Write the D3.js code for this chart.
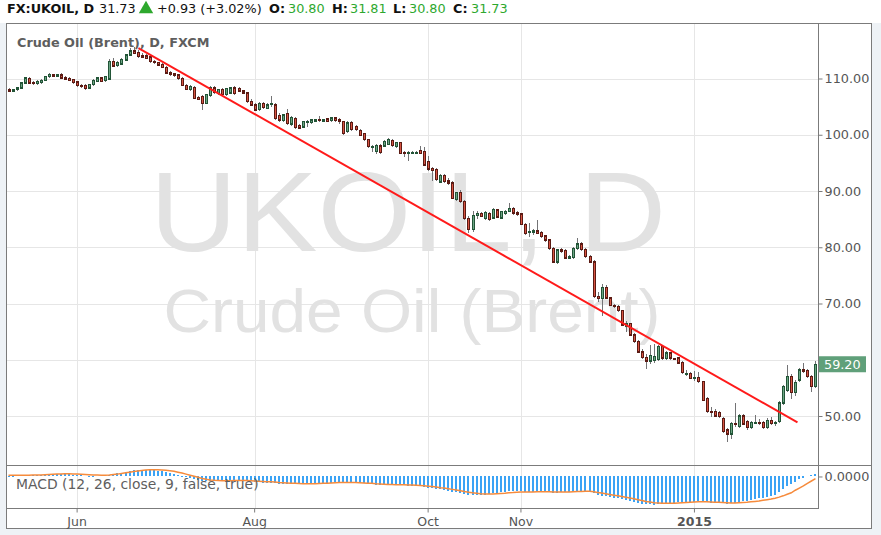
<!DOCTYPE html>
<html>
<head>
<meta charset="utf-8">
<script src="https://cdn.jsdelivr.net/npm/d3@7"></script>
<style>
  html, body { margin: 0; padding: 0; background: #ffffff; }
  svg { display: block; }
</style>
</head>
<body>
<svg id="chart" width="881" height="535"></svg>
<script>
// ---------------- DATA ----------------
const firstDay = new Date(2014, 4, 8);   // 8 May 2014
const lastDay  = new Date(2015, 1, 12);  // 12 Feb 2015

const opens = [
108.1,107.8,108.0,108.3,109.2,110.0,109.3,109.1,109.3,109.7,
110.3,110.6,110.5,110.6,110.1,110.0,109.8,109.4,108.8,108.8,
108.3,108.9,109.5,110.1,109.6,109.9,113.0,112.3,112.6,113.3,
114.2,114.9,114.6,114.0,114.0,113.8,113.0,112.8,112.5,112.0,
111.0,110.8,110.6,110.0,108.8,108.1,108.4,106.6,106.8,105.6,
107.0,108.3,107.3,108.0,107.1,107.4,108.3,108.2,107.8,107.4,
105.9,105.3,104.5,105.5,104.7,105.4,105.3,103.4,102.5,103.8,
101.9,102.9,101.7,101.4,102.4,102.2,102.6,102.7,102.5,102.8,
102.5,103.0,102.6,102.3,100.6,102.2,101.5,100.8,100.2,99.1,
97.8,97.0,98.0,98.0,98.3,99.0,97.9,98.6,96.9,96.8,
96.9,96.9,97.2,97.0,95.3,94.0,93.8,91.6,92.8,91.8,
91.4,88.5,89.7,88.1,85.1,83.2,85.6,86.0,85.1,86.0,
85.2,86.6,85.2,86.0,86.4,86.9,86.1,85.9,84.1,82.6,
82.6,82.9,82.6,82.0,81.3,79.8,77.4,79.5,79.4,78.1,
78.2,79.8,80.6,79.6,78.3,77.4,71.2,70.9,72.9,71.0,
69.7,69.5,68.7,66.0,66.4,64.4,63.2,61.4,60.4,59.8,
59.9,60.0,62.3,60.2,61.2,60.2,60.3,59.5,57.5,57.6,
56.8,56.9,56.1,53.1,50.8,50.8,50.6,49.6,47.5,46.8,
48.7,48.1,50.0,49.0,48.0,48.8,48.9,48.8,47.9,49.2,
48.7,49.0,52.3,54.5,57.0,54.2,56.4,58.2,58.1,57.0,
55.2];

const highs = [
108.4,108.2,108.5,109.4,110.3,110.2,109.6,109.7,109.9,110.5,
111.0,110.8,110.8,110.9,110.4,110.2,110.0,109.6,109.1,109.0,
109.1,109.9,110.3,110.3,110.5,113.4,113.6,113.1,113.6,114.4,
115.5,115.6,115.0,114.5,114.3,114.0,113.3,113.0,112.7,112.2,
111.3,111.0,110.8,110.2,109.0,108.8,108.6,106.9,107.0,107.3,
108.6,108.6,108.2,108.3,108.4,108.5,108.6,108.5,108.0,107.6,
106.3,105.6,105.9,105.8,105.6,106.9,105.6,103.8,103.7,104.6,
103.3,103.2,101.9,102.5,102.7,102.8,102.8,103.3,102.8,103.0,
103.2,103.2,102.9,102.5,102.5,102.4,101.7,101.0,100.4,99.3,
98.2,98.3,98.3,99.0,99.5,99.3,98.8,98.8,97.2,97.1,
97.1,97.2,98.0,97.9,96.2,94.3,94.1,93.0,93.0,92.3,
91.8,89.9,90.2,88.4,85.6,86.4,86.5,86.3,86.4,86.3,
86.9,86.8,86.5,86.6,87.8,87.1,86.4,86.1,84.3,84.4,
83.3,84.8,82.9,82.2,81.5,80.0,79.7,79.9,79.7,78.6,
80.0,81.6,81.0,79.8,78.6,77.8,72.0,73.4,73.3,71.2,
70.0,69.8,68.9,66.9,66.6,64.8,63.5,62.0,61.0,62.6,
62.8,62.6,62.7,61.5,61.4,60.4,60.5,59.7,58.1,57.9,
58.0,57.9,56.3,53.3,51.6,51.2,50.9,49.9,47.9,49.0,
52.3,50.3,50.4,49.3,49.2,50.1,49.4,49.1,49.6,49.9,
49.2,52.6,55.5,59.0,57.4,56.4,58.6,59.5,58.4,57.3,
59.8];

const lows = [
107.6,107.6,107.8,108.1,109.0,109.0,108.9,108.9,109.1,109.5,
110.1,110.3,110.3,109.9,109.7,109.5,109.1,108.5,108.4,108.0,
108.1,108.7,109.3,109.3,109.4,109.8,112.0,112.0,112.4,113.1,
114.0,114.3,113.6,113.6,113.4,112.8,112.6,112.2,111.8,110.8,
110.5,110.3,109.8,108.6,107.9,107.8,106.3,106.1,104.4,105.4,
106.8,107.3,107.1,107.0,106.9,107.2,107.1,107.6,107.2,105.7,
105.1,104.2,104.3,104.6,104.5,104.9,102.7,102.3,102.3,101.8,
101.6,101.1,101.0,101.2,101.4,102.0,102.3,102.3,102.3,102.2,
102.3,102.3,102.0,100.0,100.3,100.7,100.6,99.7,98.9,97.7,
96.9,96.6,96.6,97.8,98.1,97.9,97.6,96.5,96.1,95.4,
96.6,96.6,96.5,94.4,93.5,91.7,91.8,91.4,91.5,91.1,
88.5,88.3,87.9,84.9,82.6,82.8,85.0,85.3,84.8,84.7,
85.0,85.3,85.0,85.7,86.2,85.8,85.6,83.9,82.2,81.9,
82.2,82.3,81.7,81.0,79.6,77.2,77.0,79.0,77.9,77.9,
77.9,79.6,79.4,78.1,77.2,71.0,70.2,67.7,70.8,69.5,
69.2,68.5,66.0,65.0,64.2,63.0,61.2,60.1,58.4,59.3,
59.4,59.8,60.0,59.9,60.0,59.9,59.2,57.5,57.1,56.5,
56.2,55.9,52.6,50.6,49.8,49.8,49.7,47.0,45.4,45.9,
48.0,47.9,48.4,47.6,47.7,48.5,48.4,47.7,47.7,48.4,
48.3,48.8,52.0,54.2,53.1,53.5,56.1,57.6,56.8,54.3,
55.0];

const closes = [
107.8,108.0,108.3,109.2,110.1,109.2,109.1,109.5,109.7,110.3,
110.7,110.5,110.6,110.1,110.0,109.7,109.3,108.7,108.6,108.2,
108.9,109.7,110.1,109.5,110.3,113.0,112.2,112.8,113.4,114.2,
114.9,114.5,113.9,113.8,113.6,113.0,112.8,112.4,112.0,111.0,
110.7,110.5,110.0,108.8,108.1,108.6,106.5,106.3,105.6,107.1,
108.3,107.5,108.0,107.2,108.2,108.3,107.3,107.8,107.4,105.9,
105.3,104.4,105.6,104.8,105.3,105.5,102.9,102.6,103.5,102.0,
103.1,101.3,101.2,102.3,102.4,102.6,102.6,102.5,102.6,102.4,
103.0,102.5,102.3,100.2,102.1,100.9,100.9,99.9,99.1,97.9,
97.9,98.1,96.8,98.8,99.1,98.1,98.6,96.7,96.8,96.8,
96.9,96.9,96.7,94.6,93.9,93.6,92.0,92.8,91.7,91.4,
88.7,89.7,88.1,85.1,83.2,85.6,86.0,85.5,86.2,84.9,
86.7,85.4,86.3,86.4,86.9,86.1,85.9,84.1,82.5,82.8,
82.9,82.5,81.9,81.3,79.8,77.4,79.5,79.4,78.1,78.3,
79.8,80.6,79.6,78.3,77.4,71.2,70.9,72.9,71.0,69.7,
69.5,68.7,66.2,66.5,64.4,63.2,61.4,60.4,59.8,60.7,
60.6,62.3,60.3,61.2,60.3,60.0,59.4,57.7,57.6,56.7,
56.9,56.1,52.8,50.8,50.7,50.0,49.9,47.2,46.8,48.7,
48.5,50.0,48.6,48.0,48.8,48.9,48.8,48.0,49.2,48.7,
48.8,52.3,55.3,57.0,54.2,56.0,58.2,58.0,57.0,55.2,
59.2];

// MACD (12, 26, close, 9): MACD (blue histogram) and signal (orange)
const macdValues = [
0.1,0.1,0.15,0.2,0.3,0.35,0.35,0.4,0.4,0.45,
0.5,0.55,0.6,0.6,0.55,0.5,0.45,0.35,0.25,0.15,
0.1,0.1,0.15,0.15,0.2,0.45,0.6,0.75,0.9,1.1,
1.3,1.4,1.5,1.55,1.55,1.5,1.45,1.35,1.2,1.0,
0.8,0.55,0.3,0.05,-0.2,-0.4,-0.65,-0.85,-1.0,-1.05,
-1.0,-1.0,-1.0,-1.0,-0.95,-0.9,-0.9,-0.85,-0.85,-1.0,
-1.15,-1.3,-1.35,-1.4,-1.4,-1.4,-1.55,-1.65,-1.7,-1.75,
-1.75,-1.8,-1.85,-1.8,-1.75,-1.7,-1.65,-1.55,-1.5,-1.45,
-1.4,-1.35,-1.3,-1.35,-1.3,-1.35,-1.4,-1.5,-1.6,-1.75,
-1.85,-1.95,-2.0,-1.95,-1.9,-1.9,-1.95,-2.0,-2.05,-2.1,
-2.1,-2.15,-2.2,-2.4,-2.6,-2.75,-2.9,-3.0,-3.1,-3.35,
-3.5,-3.6,-3.85,-4.1,-4.25,-4.3,-4.3,-4.25,-4.2,-4.1,
-3.95,-3.85,-3.7,-3.55,-3.4,-3.3,-3.3,-3.4,-3.55,-3.6,
-3.6,-3.6,-3.6,-3.6,-3.65,-3.8,-3.75,-3.7,-3.65,-3.6,
-3.5,-3.4,-3.35,-3.35,-3.4,-3.9,-4.35,-4.5,-4.65,-4.8,
-4.9,-5.0,-5.25,-5.4,-5.6,-5.85,-6.1,-6.3,-6.45,-6.5,
-6.55,-6.45,-6.4,-6.3,-6.2,-6.1,-6.0,-6.0,-5.95,-5.9,
-5.85,-5.8,-5.9,-6.05,-6.1,-6.1,-6.1,-6.2,-6.3,-6.25,
-6.1,-5.95,-5.8,-5.65,-5.5,-5.3,-5.1,-4.9,-4.7,-4.5,
-4.2,-3.6,-3.0,-2.3,-1.8,-1.2,-0.7,-0.3,0.15,0.3,
0.55];

const signalValues = [
0.3,0.3,0.3,0.3,0.3,0.3,0.32,0.35,0.37,0.4,
0.45,0.5,0.55,0.6,0.62,0.62,0.6,0.55,0.5,0.45,
0.4,0.35,0.32,0.3,0.3,0.35,0.45,0.55,0.7,0.85,
1.0,1.15,1.3,1.4,1.5,1.55,1.55,1.55,1.5,1.45,
1.35,1.2,1.0,0.8,0.55,0.3,0.05,-0.2,-0.45,-0.65,
-0.8,-0.9,-0.95,-1.0,-1.0,-1.0,-0.95,-0.95,-0.95,-0.95,
-1.0,-1.05,-1.1,-1.15,-1.2,-1.25,-1.3,-1.4,-1.45,-1.5,
-1.55,-1.6,-1.65,-1.7,-1.7,-1.7,-1.7,-1.65,-1.6,-1.55,
-1.5,-1.45,-1.4,-1.4,-1.4,-1.4,-1.4,-1.45,-1.5,-1.55,
-1.6,-1.7,-1.75,-1.8,-1.85,-1.85,-1.9,-1.9,-1.95,-2.0,
-2.0,-2.05,-2.1,-2.15,-2.25,-2.35,-2.45,-2.6,-2.7,-2.85,
-3.0,-3.15,-3.3,-3.5,-3.65,-3.8,-3.9,-4.0,-4.05,-4.05,
-4.05,-4.0,-3.95,-3.9,-3.8,-3.75,-3.65,-3.6,-3.6,-3.6,
-3.6,-3.55,-3.55,-3.55,-3.55,-3.6,-3.6,-3.6,-3.6,-3.6,
-3.55,-3.5,-3.5,-3.45,-3.45,-3.55,-3.7,-3.85,-4.0,-4.2,
-4.35,-4.5,-4.65,-4.85,-5.0,-5.2,-5.4,-5.6,-5.8,-5.95,
-6.1,-6.15,-6.2,-6.2,-6.2,-6.2,-6.15,-6.1,-6.05,-6.0,
-5.95,-5.9,-5.9,-5.9,-5.95,-6.0,-6.0,-6.05,-6.1,-6.15,
-6.15,-6.1,-6.05,-6.0,-5.9,-5.8,-5.7,-5.55,-5.4,-5.25,
-5.05,-4.8,-4.5,-4.15,-3.8,-3.2,-2.7,-2.2,-1.6,-1.05,
-0.5];

const priceTicks = [50, 60, 70, 80, 90, 100, 110];
const macdTicks = [0];
const monthTicks = [
  { date: "2014-06-02", label: "Jun",  bold: false },
  { date: "2014-08-01", label: "Aug",  bold: false },
  { date: "2014-10-01", label: "Oct",  bold: false },
  { date: "2014-11-03", label: "Nov",  bold: false },
  { date: "2015-01-01", label: "2015", bold: true }
];
// hand-drawn trend line, anchored by bar position and price
const trendLine = [ { bar: 32.2, price: 115.42 }, { bar: 195.54, price: 48.88 } ];
const lastPrice = 59.20;
const headerParts = [
  { text: "FX:UKOIL, D",     bold: true,  color: "#111", x: 7 },
  { text: "31.73",           bold: false, color: "#111", x: 99 },
  { text: "+0.93 (+3.02%)",  bold: false, color: "#111", x: 157 },
  { text: "O:",              bold: true,  color: "#111", x: 269 },
  { text: "30.80",           bold: false, color: "#2ea82e", x: 288 },
  { text: "H:",              bold: true,  color: "#111", x: 332 },
  { text: "31.81",           bold: false, color: "#2ea82e", x: 350 },
  { text: "L:",              bold: true,  color: "#111", x: 393 },
  { text: "30.80",           bold: false, color: "#2ea82e", x: 409 },
  { text: "C:",              bold: true,  color: "#111", x: 453 },
  { text: "31.73",           bold: false, color: "#2ea82e", x: 471 }
];
const paneTitle = "Crude Oil (Brent), D, FXCM";
const macdTitle = "MACD (12, 26, close, 9, false, true)";
const watermark1 = "UKOIL, D";
const watermark2 = "Crude Oil (Brent)";

// ---------------- LAYOUT ----------------
const FRAME = { left: 6, top: 23, right: 872, bottom: 529 };
const PLOT = { left: 6, right: 818, top: 23, priceBottom: 465, macdBottom: 508 };
const UI_FONT = "'DejaVu Sans', Verdana, sans-serif";
const AXIS_COLOR = "#555";
const GRID = "#e6e6e6";
const BORDER = "#7b7b7b";

const fmtKey = d3.timeFormat("%Y-%m-%d");
const days = d3.timeDay.range(firstDay, d3.timeDay.offset(lastDay, 1))
  .filter(d => d.getDay() !== 0 && d.getDay() !== 6);
const keys = days.map(fmtKey);

const bars = keys.map((k, i) => ({
  key: k, i, o: opens[i], h: highs[i], l: lows[i], c: closes[i],
  m: macdValues[i], s: signalValues[i]
}));

const svg = d3.select("#chart");

// page background
svg.append("rect").attr("x", 0).attr("y", 0).attr("width", 881).attr("height", 535).attr("fill", "#eef2f6");
svg.append("rect").attr("x", 0).attr("y", 0).attr("width", 881).attr("height", FRAME.top).attr("fill", "#ffffff");
svg.append("rect").attr("x", FRAME.left).attr("y", FRAME.top)
  .attr("width", FRAME.right - FRAME.left).attr("height", FRAME.bottom - FRAME.top).attr("fill", "#ffffff");

// scales
const x = d3.scaleBand().domain(keys).range([PLOT.left + 0.5, PLOT.right - 0.5]).paddingInner(0).paddingOuter(0);
const cx = k => x(k) + x.bandwidth() / 2;
const xBar = d3.scaleLinear().domain([0, keys.length - 1]).range([cx(keys[0]), cx(keys[keys.length - 1])]);
const y = d3.scaleLinear().domain([50, 110]).range([416, 78.5]);
const yM = d3.scaleLinear().domain([-7.33, 2.67]).range([PLOT.macdBottom, PLOT.priceBottom]);

svg.append("clipPath").attr("id", "clipP").append("rect")
  .attr("x", PLOT.left).attr("y", PLOT.top).attr("width", PLOT.right - PLOT.left).attr("height", PLOT.priceBottom - PLOT.top);
svg.append("clipPath").attr("id", "clipM").append("rect")
  .attr("x", PLOT.left).attr("y", PLOT.priceBottom).attr("width", PLOT.right - PLOT.left).attr("height", PLOT.macdBottom - PLOT.priceBottom);

// grid
const grid = svg.append("g").attr("shape-rendering", "crispEdges");
grid.selectAll("line.h").data(priceTicks).join("line")
  .attr("x1", PLOT.left).attr("x2", PLOT.right)
  .attr("y1", d => Math.round(y(d)) + 0.5).attr("y2", d => Math.round(y(d)) + 0.5)
  .attr("stroke", GRID);
grid.selectAll("line.v").data(monthTicks).join("line")
  .attr("x1", d => Math.round(cx(d.date)) + 0.5).attr("x2", d => Math.round(cx(d.date)) + 0.5)
  .attr("y1", PLOT.top).attr("y2", PLOT.macdBottom)
  .attr("stroke", GRID);

// watermark
const wm = svg.append("g").attr("clip-path", "url(#clipP)")
  .attr("font-family", "'Liberation Sans', Arial, sans-serif").attr("fill", "#e2e2e2").attr("text-anchor", "middle");
wm.append("text").attr("x", 408).attr("y", 251).attr("font-size", 114)
  .attr("textLength", 516).attr("lengthAdjust", "spacingAndGlyphs").text(watermark1);
wm.append("text").attr("x", 412).attr("y", 331.5).attr("font-size", 62)
  .attr("textLength", 497).attr("lengthAdjust", "spacingAndGlyphs").text(watermark2);

// candles
const candles = svg.append("g").attr("clip-path", "url(#clipP)").attr("shape-rendering", "crispEdges");
const UP = { fill: "#6ba583", stroke: "#225437" };
const DN = { fill: "#d75442", stroke: "#5b1a13" };
candles.selectAll("line.wick").data(bars).join("line")
  .attr("x1", d => Math.round(cx(d.key)) + 0.5).attr("x2", d => Math.round(cx(d.key)) + 0.5)
  .attr("y1", d => y(d.h)).attr("y2", d => y(d.l))
  .attr("stroke", "#737375");
candles.selectAll("rect.body").data(bars).join("rect")
  .attr("x", d => Math.round(cx(d.key)) - 1 + 0.5)
  .attr("width", 2)
  .attr("y", d => y(Math.max(d.o, d.c)))
  .attr("height", d => Math.max(1, Math.abs(y(d.o) - y(d.c))))
  .attr("fill", d => d.c >= d.o ? UP.fill : DN.fill)
  .attr("stroke", d => d.c >= d.o ? UP.stroke : DN.stroke)
  .attr("stroke-width", 1.3);

// trend line
svg.append("line").attr("clip-path", "url(#clipP)")
  .attr("x1", xBar(trendLine[0].bar)).attr("y1", y(trendLine[0].price))
  .attr("x2", xBar(trendLine[1].bar)).attr("y2", y(trendLine[1].price))
  .attr("stroke", "#ff1a1a").attr("stroke-width", 2);

// MACD pane
const mg = svg.append("g").attr("clip-path", "url(#clipM)");
mg.selectAll("rect.hist").data(bars).join("rect")
  .attr("shape-rendering", "crispEdges")
  .attr("x", d => Math.round(cx(d.key)) - 1)
  .attr("width", 2)
  .attr("y", d => Math.min(yM(0), yM(d.m)))
  .attr("height", d => Math.max(0.5, Math.abs(yM(d.m) - yM(0))))
  .attr("fill", "#3ba3f5");
mg.append("path").datum(bars)
  .attr("d", d3.line().x(d => cx(d.key)).y(d => yM(d.s)))
  .attr("fill", "none").attr("stroke", "#f68b3c").attr("stroke-width", 1.5);

// frame lines
const fr = svg.append("g").attr("shape-rendering", "crispEdges").attr("stroke", BORDER).attr("fill", "none");
fr.append("rect").attr("x", FRAME.left + 0.5).attr("y", FRAME.top + 0.5)
  .attr("width", FRAME.right - FRAME.left - 1).attr("height", FRAME.bottom - FRAME.top - 1);
fr.append("line").attr("x1", PLOT.right + 0.5).attr("x2", PLOT.right + 0.5).attr("y1", FRAME.top).attr("y2", PLOT.macdBottom + 1);
fr.append("line").attr("x1", FRAME.left).attr("x2", FRAME.right).attr("y1", PLOT.priceBottom + 0.5).attr("y2", PLOT.priceBottom + 0.5);
fr.append("line").attr("x1", FRAME.left).attr("x2", PLOT.right + 1).attr("y1", PLOT.macdBottom + 0.5).attr("y2", PLOT.macdBottom + 0.5);

// price axis
const yAxis = d3.axisRight(y).tickValues(priceTicks).tickSize(4).tickPadding(2).tickFormat(d3.format(".2f"));
const ya = svg.append("g").attr("transform", `translate(${PLOT.right + 0.5},0)`).call(yAxis);
ya.select(".domain").remove();
ya.selectAll("line").attr("stroke", BORDER);
ya.selectAll("text").attr("fill", AXIS_COLOR).attr("font-family", UI_FONT).attr("font-size", 12.8);
ya.selectAll(".tick").filter(d => Math.abs(y(d) - y(lastPrice)) < 10).select("text").remove();

const yMAxis = d3.axisRight(yM).tickValues(macdTicks).tickSize(4).tickPadding(2).tickFormat(d3.format(".4f"));
const yma = svg.append("g").attr("transform", `translate(${PLOT.right + 0.5},0)`).call(yMAxis);
yma.select(".domain").remove();
yma.selectAll("line").attr("stroke", BORDER);
yma.selectAll("text").attr("fill", AXIS_COLOR).attr("font-family", UI_FONT).attr("font-size", 12.8);

// last price label
const lp = svg.append("g").attr("transform", `translate(${PLOT.right + 1},${y(lastPrice)})`);
lp.append("rect").attr("x", 0).attr("y", -8).attr("width", 47).attr("height", 16).attr("fill", "#60a07a");
lp.append("text").attr("x", 5).attr("y", 0).attr("dy", "0.35em").attr("fill", "#ffffff")
  .attr("font-family", UI_FONT).attr("font-size", 12.8).text(d3.format(".2f")(lastPrice));

// time axis
const xAxis = d3.axisBottom(x).tickValues(monthTicks.map(d => d.date)).tickSize(4).tickPadding(5)
  .tickFormat(k => monthTicks.find(m => m.date === k).label);
const xa = svg.append("g").attr("transform", `translate(0,${PLOT.macdBottom + 0.5})`).call(xAxis);
xa.select(".domain").remove();
xa.selectAll("line").attr("stroke", BORDER);
xa.selectAll("text").attr("fill", AXIS_COLOR).attr("font-family", UI_FONT).attr("font-size", 12.5)
  .attr("font-weight", k => monthTicks.find(m => m.date === k).bold ? "bold" : "normal");

// pane titles
svg.append("text").attr("x", 17).attr("y", 47).attr("font-family", UI_FONT).attr("font-size", 12.8)
  .attr("font-weight", "bold").attr("fill", "#5e5e5e").text(paneTitle);
svg.append("text").attr("x", 16).attr("y", 489).attr("font-family", UI_FONT).attr("font-size", 13.9)
  .attr("fill", "#5e5e5e").text(macdTitle);

// header
const hg = svg.append("g").attr("font-family", UI_FONT).attr("font-size", 12.8);
headerParts.forEach(p => {
  hg.append("text").attr("x", p.x).attr("y", 13)
    .attr("font-weight", p.bold ? "bold" : "normal")
    .attr("fill", p.color).text(p.text);
});
// up-arrow icon for the change
hg.append("path").attr("d", d3.symbol(d3.symbolTriangle, 90)())
  .attr("transform", "translate(146,9)").attr("fill", "#2ea82e");
</script>
</body>
</html>
